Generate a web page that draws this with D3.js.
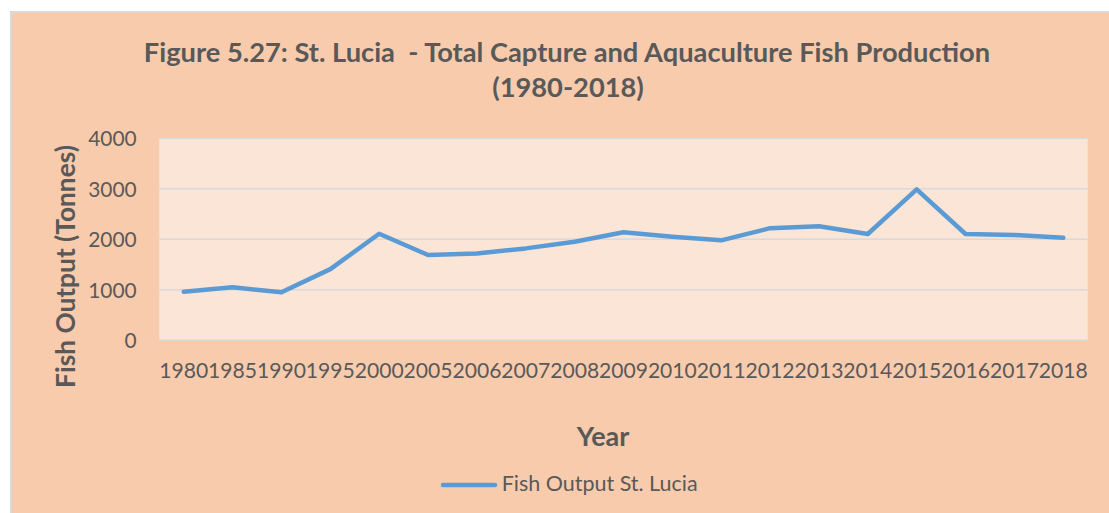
<!DOCTYPE html>
<html>
<head>
<meta charset="utf-8">
<script src="https://cdn.jsdelivr.net/npm/d3@7"></script>
<style>
  html, body { margin: 0; padding: 0; background: #ffffff; }
  svg { display: block; }
  text { font-family: Lato, "Open Sans", "Noto Sans", sans-serif; fill: #595959; }
</style>
</head>
<body>
<svg id="chart" width="1109" height="513"></svg>
<script>
// Fish output, St. Lucia (tonnes)
const years = ["1980","1985","1990","1995","2000","2005","2006","2007","2008","2009",
               "2010","2011","2012","2013","2014","2015","2016","2017","2018"];
const fishOutput = [960, 1050, 950, 1410, 2110, 1690, 1720, 1820, 1950, 2140,
                    2050, 1980, 2220, 2260, 2105, 2990, 2105, 2085, 2030];
const yTicks = [0, 1000, 2000, 3000, 4000];
const titleLines = ["Figure 5.27: St. Lucia\u00a0 - Total Capture and Aquaculture Fish Production", "(1980-2018)"];
const seriesName = "Fish Output St. Lucia";

const svg = d3.select("#chart");
const W = 1109, H = 513;

// chart background with thin grey frame
svg.append("rect").attr("x", 11).attr("y", 12).attr("width", W - 11 + 2).attr("height", H - 12 + 2)
  .attr("fill", "#f8cbad").attr("stroke", "#d9d9d9").attr("stroke-width", 2);

const plot = { left: 159.3, right: 1087.7, top: 138.3, bottom: 340.3 };

// plot area
svg.append("rect").attr("x", plot.left).attr("y", plot.top)
  .attr("width", plot.right - plot.left).attr("height", plot.bottom - plot.top)
  .attr("fill", "#fbe5d6");

const x = d3.scaleBand().domain(years).range([plot.left, plot.right]).padding(0);
const y = d3.scaleLinear().domain([0, 4000]).range([plot.bottom, plot.top]);

// scale a text's font size so that it spans the given width
function fit(sel, width) {
  const len = sel.node().getComputedTextLength();
  const fs = parseFloat(sel.attr("font-size"));
  sel.attr("font-size", fs * width / len);
  return sel;
}

// gridlines
svg.append("g").selectAll("line").data(yTicks).join("line")
  .attr("x1", plot.left).attr("x2", plot.right)
  .attr("y1", d => y(d)).attr("y2", d => y(d))
  .attr("stroke", "#d9d9d9").attr("stroke-width", 1.4);

// y axis labels
const probeY = svg.append("text").attr("font-size", 20).text("4000");
fit(probeY, 48.5);
const yFs = probeY.attr("font-size"); probeY.remove();
const yAxis = d3.axisLeft(y).tickValues(yTicks).tickSize(0).tickPadding(0).tickFormat(d3.format("d"));
const gy = svg.append("g").attr("transform", `translate(${136.7},0)`).call(yAxis);
gy.select(".domain").remove();
gy.selectAll("text").attr("font-size", yFs).attr("fill", "#595959")
  .attr("font-family", "Lato, 'Open Sans', sans-serif").attr("dy", "0.36em");

// x axis labels
const probeX = svg.append("text").attr("font-size", 20).text("2000");
fit(probeX, 49.0);
const xFs = probeX.attr("font-size"); probeX.remove();
const xAxis = d3.axisBottom(x).tickSize(0).tickPadding(0);
const gx = svg.append("g").attr("transform", `translate(0,${378})`).call(xAxis);
gx.select(".domain").remove();
gx.selectAll("text").attr("font-size", xFs).attr("fill", "#595959")
  .attr("font-family", "Lato, 'Open Sans', sans-serif").attr("dy", 0);

// data line
const line = d3.line().x(d => x(d.year) + x.bandwidth() / 2).y(d => y(d.value));
svg.append("path")
  .datum(years.map((yr, i) => ({ year: yr, value: fishOutput[i] })))
  .attr("d", line).attr("fill", "none").attr("stroke", "#5b9bd5")
  .attr("stroke-width", 4.5).attr("stroke-linejoin", "round").attr("stroke-linecap", "round");

// title
const t1 = svg.append("text").attr("x", 567).attr("y", 62).attr("text-anchor", "middle")
  .attr("font-weight", "bold").attr("font-size", 26).text(titleLines[0]);
fit(t1, 847);
const t2 = svg.append("text").attr("x", 568).attr("y", 97).attr("text-anchor", "middle")
  .attr("font-weight", "bold").attr("font-size", t1.attr("font-size")).text(titleLines[1]);

// axis titles
const xt = svg.append("text").attr("x", 603).attr("y", 446).attr("text-anchor", "middle")
  .attr("font-weight", "bold").attr("font-size", 26).text("Year");
fit(xt, 52.6);
const yt = svg.append("text").attr("transform", `translate(75,266.5) rotate(-90)`)
  .attr("text-anchor", "middle").attr("font-weight", "bold").attr("font-size", 26)
  .text("Fish Output (Tonnes)");
fit(yt, 243);

// legend
svg.append("line").attr("x1", 443).attr("x2", 495).attr("y1", 485).attr("y2", 485)
  .attr("stroke", "#5b9bd5").attr("stroke-width", 4.5).attr("stroke-linecap", "round");
const lt = svg.append("text").attr("x", 501.7).attr("y", 490.7).attr("font-size", 22).text(seriesName);
fit(lt, 196);
</script>
</body>
</html>
